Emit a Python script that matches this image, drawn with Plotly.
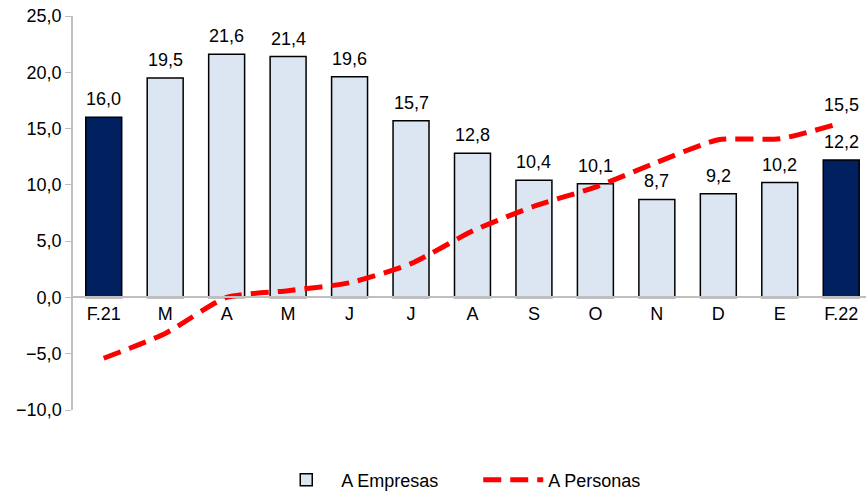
import plotly.graph_objects as go

categories = ["F.21", "M", "A", "M", "J", "J", "A", "S", "O", "N", "D", "E", "F.22"]
empresas = [16.0, 19.5, 21.6, 21.4, 19.6, 15.7, 12.8, 10.4, 10.1, 8.7, 9.2, 10.2, 12.2]
personas = [-5.4, -3.2, 0.0, 0.6, 1.3, 3.0, 5.9, 8.1, 9.8, 12.0, 14.0, 14.1, 15.5]
highlight = ["F.21", "F.22"]
y_ticks = [-10, -5, 0, 5, 10, 15, 20, 25]

xs = list(range(len(categories)))
is_hl = [c in highlight for c in categories]
light_vals = [None if h else v for v, h in zip(empresas, is_hl)]
dark_vals = [v if h else None for v, h in zip(empresas, is_hl)]
fmt = lambda v: f"{v:.1f}".replace(".", ",")

font = dict(family="Liberation Sans, Arial, sans-serif", size=18, color="#000000")

fig = go.Figure()
fig.add_trace(go.Bar(
    x=xs, y=light_vals, name="A Empresas",
    marker=dict(color="#DCE6F2", line=dict(color="#000000", width=1.5)),
    width=0.585,
))
fig.add_trace(go.Bar(
    x=xs, y=dark_vals, name="A Empresas", showlegend=False,
    marker=dict(color="#002060", line=dict(color="#000000", width=1.5)),
    width=0.585,
))
fig.add_trace(go.Scatter(
    x=xs, y=personas, name="A Personas", mode="lines",
    line=dict(color="#FF0000", width=5, dash="18px,9px", shape="spline", smoothing=0.6),
    cliponaxis=False,
))

for x, v in zip(xs, empresas):
    fig.add_annotation(x=x, y=v, text=fmt(v), showarrow=False, yanchor="bottom",
                       yshift=6, font=font)
fig.add_annotation(x=xs[-1], y=personas[-1], text=fmt(personas[-1]), showarrow=False,
                   yanchor="bottom", yshift=6, font=font)

fig.update_layout(
    width=866, height=494,
    margin=dict(l=73, r=0, t=16, b=84),
    paper_bgcolor="white", plot_bgcolor="white",
    font=font, separators=",.",
    showlegend=True, barmode="overlay",
    legend=dict(orientation="h", x=0.25, xanchor="left",
                yref="container", y=14 / 494, yanchor="middle",
                font=font, itemwidth=60, entrywidth=132, traceorder="normal"),
)
fig.update_xaxes(
    tickmode="array", tickvals=xs, ticktext=categories,
    range=[-0.5, 12.403], showgrid=False, zeroline=False,
    showline=True, linecolor="#BFBFBF", linewidth=1.5,
    ticks="", anchor="free", position=10 / 35, tickfont=font, automargin=False,
)
fig.update_yaxes(
    range=[-10, 25], tickvals=y_ticks, tickformat=".1f",
    showgrid=False, zeroline=False, showline=True, linecolor="#BFBFBF", linewidth=1.5,
    ticks="outside", ticklen=6, tickcolor="#BFBFBF", tickfont=font, automargin=False,
    ticklabeloverflow="allow",
)
fig.write_html("out.html", config={"displayModeBar": False},
               post_script="document.body.style.margin='0';")
